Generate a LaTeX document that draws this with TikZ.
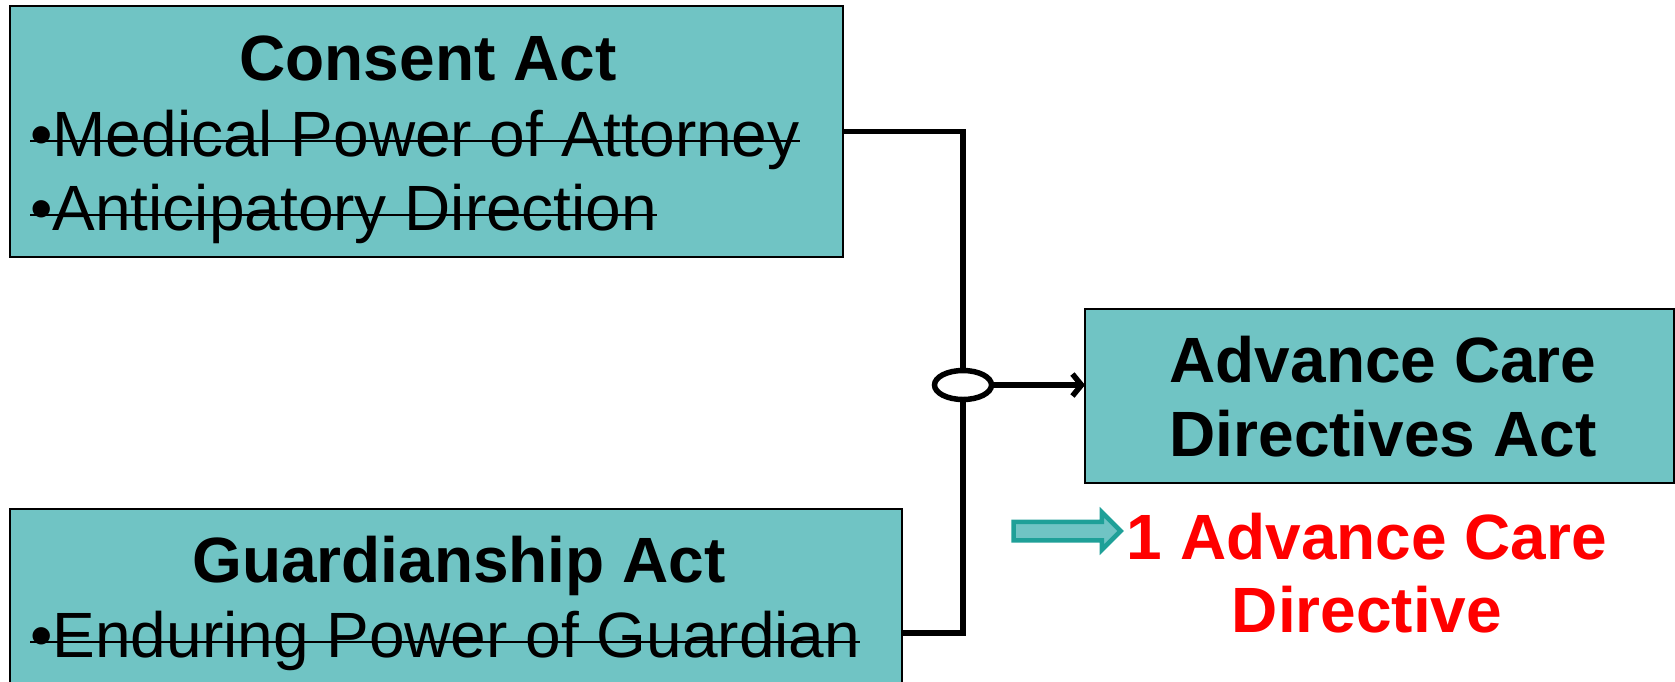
\documentclass[tikz,border=0pt]{standalone}
\usepackage{fontspec}
\setmainfont{Liberation Sans}
\usetikzlibrary{positioning,arrows.meta,shapes.geometric,shapes.arrows}
\definecolor{actteal}{RGB}{112,196,196}
\definecolor{hintteal}{RGB}{31,160,152}
\newcommand{\repealed}[1]{\setbox0\hbox{#1}\rlap{\rule[13.6pt]{\wd0}{2.8pt}}\box0}

\begin{document}
\begin{tikzpicture}[x=1pt, y=-1pt]

% Define the node styles
\tikzstyle{act}=[rectangle, draw, line width=1.8pt, fill=actteal, inner sep=0, outer sep=0]
\tikzstyle{title}=[inner sep=0, anchor=base, align=center, font=\bfseries\fontsize{64}{74}\selectfont]
\tikzstyle{item}=[inner sep=0, anchor=base west, font=\fontsize{64}{74}\selectfont]
\tikzstyle{junction}=[ellipse, draw, line width=5.5pt, fill=white, inner sep=0, minimum width=57pt, minimum height=29pt]
\tikzstyle{wire}=[line width=5.5pt]
\tikzstyle{pointer}=[single arrow, draw=hintteal, line width=4.5pt, fill=actteal, inner sep=7pt, minimum height=107pt, single arrow head extend=9.5pt]
\tikzstyle{result}=[inner sep=0, anchor=base, align=center, text=red, font=\bfseries\fontsize{64}{73}\selectfont]

\useasboundingbox (0,0) rectangle (1675,681);

% Define the nodes
\node[act, minimum width=833pt, minimum height=251pt] (consent) at (426.5,131.5) {};
\node[act, minimum width=892pt, minimum height=248pt] (guardian) at (456,633) {};
\node[act, minimum width=589pt, minimum height=174pt] (advance) at (1379.5,396) {};
\node[junction] (junction) at (963,385) {};
\node[pointer] (hint) at (1062.5,531) {};

\node[title] (consenttitle) at (428,80) {Consent Act};
\node[item] (mpa) at (30,156) {\repealed{•Medical Power of Attorney}};
\node[item] (antic) at ([yshift=-74pt]mpa.base west) {\repealed{•Anticipatory Direction}};
\node[title] (guardtitle) at (459,582) {Guardianship Act};
\node[item] (epg) at (30,657) {\repealed{•Enduring Power of Guardian}};
\node[title] (advancetitle) at (1383,456) {Advance Care\\Directives Act};
\node[result] (onedirective) at (1367,632) {1 Advance Care\\Directive};

% Add the edges
\draw[wire] (consent.east) -| (junction.north);
\draw[wire] (guardian.east) -| (junction.south);
\draw[wire, -{Straight Barb[length=9pt, width=22pt]}] (junction.east) -- (junction.east -| advance.west);

\end{tikzpicture}
\end{document}
